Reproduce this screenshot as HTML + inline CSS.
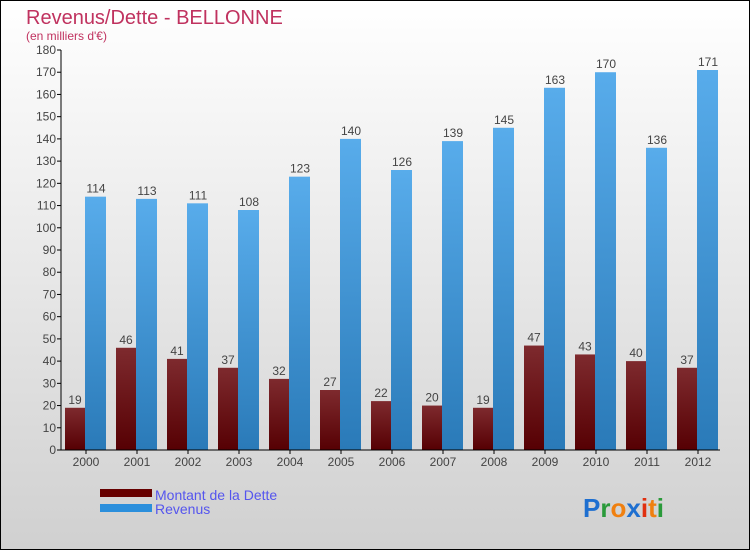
<!DOCTYPE html>
<html><head><meta charset="utf-8"><style>
html,body{margin:0;padding:0}
body{width:750px;height:550px;overflow:hidden;font-family:"Liberation Sans",sans-serif}
</style></head><body>
<svg id="c" width="750" height="550" xmlns="http://www.w3.org/2000/svg">
<defs>
<linearGradient id="bg" x1="0" y1="0" x2="0" y2="1"><stop offset="0" stop-color="#ffffff"/><stop offset="1" stop-color="#d0d0d0"/></linearGradient>
<linearGradient id="gd" x1="0" y1="0" x2="0" y2="1"><stop offset="0" stop-color="#7e2a2e"/><stop offset="1" stop-color="#560003"/></linearGradient>
<linearGradient id="gr2" x1="0" y1="0" x2="0" y2="1"><stop offset="0" stop-color="#58aceb"/><stop offset="1" stop-color="#2a7ab8"/></linearGradient>
</defs>
<rect x="0.5" y="0.5" width="749" height="549" fill="url(#bg)" stroke="#000"/>
<text x="26" y="24" font-size="20" fill="#c0325f">Revenus/Dette - BELLONNE</text>
<text x="26" y="40" font-size="12" fill="#c0325f">(en milliers d'€)</text>
<g id="plot"></g>
<g>
<rect x="100" y="489" width="52" height="8" fill="#660000"/>
<text x="155" y="500" font-size="14" fill="#5555ee">Montant de la Dette</text>
<rect x="100" y="504" width="52" height="8" fill="#2b8fdc"/>
<text x="155" y="514" font-size="14" fill="#5555ee">Revenus</text>
</g>
<text x="583" y="517" font-size="26" font-weight="bold"><tspan fill="#1e6fd0">P</tspan><tspan fill="#2a9a3a">r</tspan><tspan fill="#f08010">o</tspan><tspan fill="#1e6fd0">x</tspan><tspan fill="#e03010">i</tspan><tspan fill="#f08010">t</tspan><tspan fill="#2a9a3a">i</tspan></text>
</svg>
<script>
const years=["2000","2001","2002","2003","2004","2005","2006","2007","2008","2009","2010","2011","2012"];
const dette=[19,46,41,37,32,27,22,20,19,47,43,40,37];
const revenus=[114,113,111,108,123,140,126,139,145,163,170,136,171];
const yTicks=[0,10,20,30,40,50,60,70,80,90,100,110,120,130,140,150,160,170,180];
const NS="http://www.w3.org/2000/svg";
const g=document.getElementById('plot');
const y=v=>450-v*400/180;
const xc=i=>86+i*51;
function mk(t,a){const e=document.createElementNS(NS,t);for(const k in a)e.setAttribute(k,a[k]);g.appendChild(e);return e;}
yTicks.forEach(v=>{
 const l=mk('line',{x1:57,x2:61,y1:y(v),y2:y(v),stroke:'#000'});
 
 
 const t=mk('text',{x:56,y:y(v)+4,'text-anchor':'end','font-size':12,fill:'#444'});
 t.textContent=v;
 
 
});
years.forEach((yr,i)=>{
 const c=xc(i);
 const d=mk('rect',{x:c-21,y:y(dette[i]),width:20,height:450-y(dette[i]),fill:'url(#gd)'});
 
 
 const r=mk('rect',{x:c-1,y:y(revenus[i]),width:21,height:450-y(revenus[i]),fill:'url(#gr2)'});
 
 
 const dl=mk('text',{x:c-11,y:y(dette[i])-4,'text-anchor':'middle','font-size':12,fill:'#444'});
 dl.textContent=dette[i];
 
 
 const rl=mk('text',{x:c+10,y:y(revenus[i])-4,'text-anchor':'middle','font-size':12,fill:'#444'});
 rl.textContent=revenus[i];
 
 
 const tk=mk('line',{x1:c,x2:c,y1:450,y2:454,stroke:'#000'});
 
 
 const xl=mk('text',{x:c,y:466,'text-anchor':'middle','font-size':12,fill:'#444'});
 xl.textContent=yr;
 
 
});
const ya=mk('line',{x1:61,x2:61,y1:50,y2:450,stroke:'#000'});


const xa=mk('line',{x1:61,x2:720,y1:450,y2:450,stroke:'#000'});


</script>
</body></html>
